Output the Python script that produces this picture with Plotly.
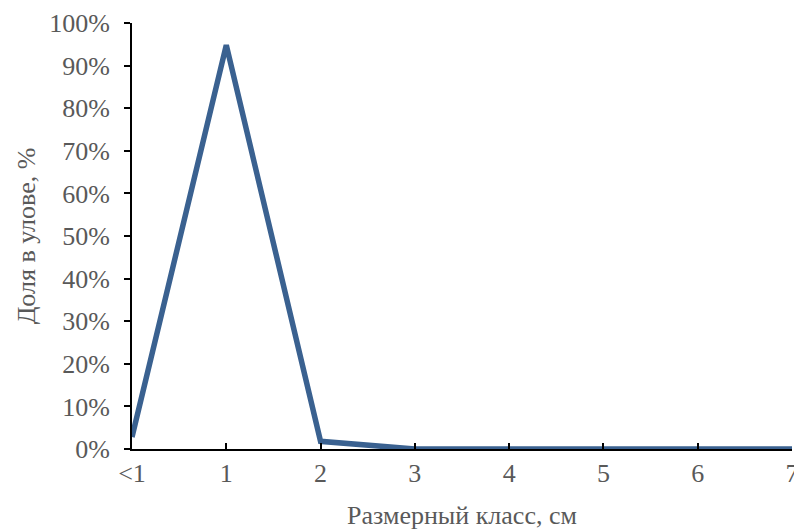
import plotly.graph_objects as go

categories = ["<1", "1", "2", "3", "4", "5", "6", "7"]
share = [0.028, 0.948, 0.018, 0.0, 0.0, 0.0, 0.0, 0.0]
y_ticks = [0, 0.1, 0.2, 0.3, 0.4, 0.5, 0.6, 0.7, 0.8, 0.9, 1.0]

x_pos = list(range(len(categories)))

fig = go.Figure()
fig.add_trace(go.Scatter(
    x=x_pos, y=share, mode="lines",
    line=dict(color="#3A6190", width=5.5),
    cliponaxis=False, showlegend=False,
))

font_family = "Liberation Serif, Times New Roman, serif"
txt = "#595959"
fig.update_layout(
    width=794, height=522,
    paper_bgcolor="white", plot_bgcolor="white",
    margin=dict(l=124, r=10, t=15, b=81),
    font=dict(family=font_family, size=26, color=txt),
    xaxis=dict(
        range=[0, len(categories) - 1],
        tickmode="array", tickvals=x_pos, ticktext=categories,
        showgrid=False, zeroline=False, automargin=False,
        showline=True, linecolor="black", linewidth=2,
        ticks="inside", ticklen=6, tickwidth=2, tickcolor="black",
        ticklabeloverflow="allow",
        tickfont=dict(size=26, color=txt),
        title=dict(text="Размерный класс, см", font=dict(size=26, color=txt), standoff=26),
    ),
    yaxis=dict(
        range=[0, 1],
        tickmode="array", tickvals=y_ticks, tickformat=".0%",
        showgrid=False, zeroline=False, automargin=False,
        showline=True, linecolor="black", linewidth=2,
        ticks="outside", ticklen=6, tickwidth=2, tickcolor="black",
        ticklabelstandoff=9,
        tickfont=dict(size=26, color=txt),
        title=dict(text="Доля в улове, %", font=dict(size=26, color=txt), standoff=6),
    ),
)

fig.write_html(
    "out.html",
    post_script="document.documentElement.style.overflow='hidden';document.body.style.overflow='hidden';",
)
